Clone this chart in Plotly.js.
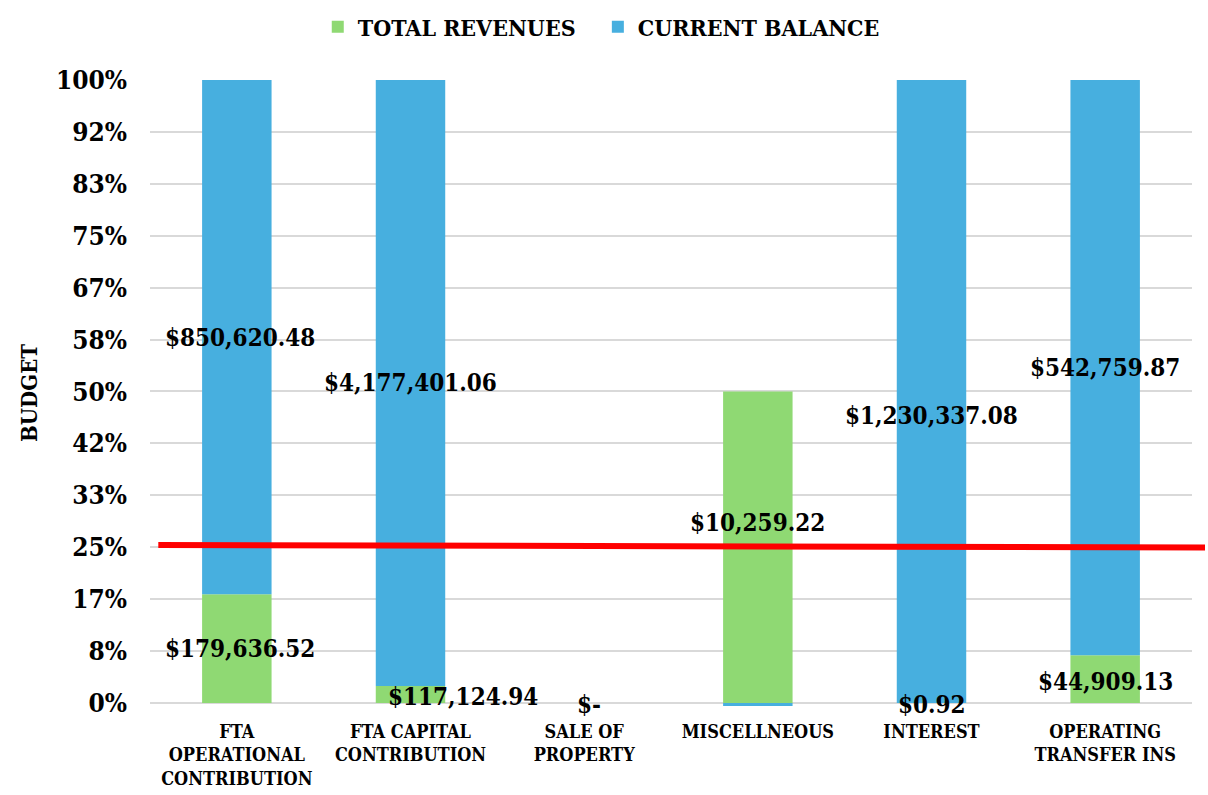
<!DOCTYPE html>
<html>
<head>
<meta charset="utf-8">
<script src="https://cdn.plot.ly/plotly-3.0.1.min.js"></script>
<style>html,body{margin:0;padding:0;background:#fff;}#chart{width:1208px;height:795px;}</style>
</head>
<body>
<div id="chart"></div>
<script>
// ---- data ----
const categories = [
  "FTA<br>OPERATIONAL<br>CONTRIBUTION",
  "FTA CAPITAL<br>CONTRIBUTION",
  "SALE OF<br>PROPERTY",
  "MISCELLNEOUS",
  "INTEREST",
  "OPERATING<br>TRANSFER INS"
];
const totalRevenues = [179636.52, 117124.94, 0, 10259.22, 0.92, 44909.13];
const currentBalance = [850620.48, 4177401.06, 0, -10259.22, 1230337.08, 542759.87];
const yTickVals = [0, 1/12, 2/12, 3/12, 4/12, 5/12, 6/12, 7/12, 8/12, 9/12, 10/12, 11/12, 1];
const yTickText = ["0%", "8%", "17%", "25%", "33%", "42%", "50%", "58%", "67%", "75%", "83%", "92%", "100%"];
const seriesNames = ["TOTAL REVENUES", "CURRENT BALANCE"];

// ---- 100% stacked shares (value / sum of absolute values) ----
const share = (a, b) => a.map((v, i) => {
  const s = Math.abs(a[i]) + Math.abs(b[i]);
  return s === 0 ? 0 : v / s;
});
const revShare = share(totalRevenues, currentBalance);
const balShare = share(currentBalance, totalRevenues);

function money(v) {
  if (v === 0) return "$-";
  const s = Math.abs(v).toLocaleString("en-US", {minimumFractionDigits: 2, maximumFractionDigits: 2});
  return (v < 0 ? "-$" : "$") + s;
}

const FONT = "'DejaVu Serif Condensed', 'DejaVu Serif', serif";
const GREEN = "#8fd973";
const BLUE = "#47afdf";

const traces = [
  {type: "bar", name: seriesNames[0], x: categories, y: revShare, marker: {color: GREEN}, width: 0.4, hoverinfo: "skip", legend: "legend"},
  {type: "bar", name: seriesNames[1], x: categories, y: balShare, marker: {color: BLUE}, width: 0.4, hoverinfo: "skip", legend: "legend2"}
];

// label offsets (manual placements in the original)
const revShift = [[3, 0], [52, -2], [5, -2], [0, 25], [0, -2], [0, -2]];
const balShift = [[3, 0], [0, 0], [0, 0], [0, 0], [0, -24], [0, 0]];

const LABEL_FONT = {family: FONT, size: 24, color: "#000", weight: "bold"};
const annotations = [];
categories.forEach((c, i) => {
  annotations.push({
    x: c, y: revShare[i] / 2, xref: "x", yref: "y", showarrow: false,
    text: money(totalRevenues[i]), xshift: revShift[i][0], yshift: revShift[i][1],
    font: LABEL_FONT
  });
  if (currentBalance[i] > 0) {
    annotations.push({
      x: c, y: revShare[i] + balShare[i] / 2, xref: "x", yref: "y", showarrow: false,
      text: money(currentBalance[i]), xshift: balShift[i][0], yshift: balShift[i][1],
      font: LABEL_FONT
    });
  }
});

const LEGEND_FONT = {family: FONT, size: 23, color: "#000", weight: "bold"};

const layout = {
  width: 1208, height: 795,
  margin: {l: 150, r: 16, t: 80, b: 89, autoexpand: false},
  paper_bgcolor: "#fff", plot_bgcolor: "#fff",
  barmode: "relative",
  font: {family: FONT, color: "#000", weight: "bold"},
  showlegend: true,
  legend: {orientation: "h", x: 0.161, xanchor: "left", y: 1.085, yanchor: "middle", font: LEGEND_FONT},
  legend2: {orientation: "h", x: 0.4298, xanchor: "left", y: 1.085, yanchor: "middle", font: LEGEND_FONT},
  xaxis: {
    type: "category", showgrid: false, zeroline: false, showline: false,
    ticks: "", ticklabelstandoff: 13,
    tickfont: {family: FONT, size: 18, color: "#000", weight: "bold"},
    fixedrange: true
  },
  yaxis: {
    range: [-0.005, 1], tickvals: yTickVals, ticktext: yTickText,
    showgrid: true, gridcolor: "#d9d9d9", gridwidth: 2, zeroline: false, showline: false,
    ticks: "", ticklabelstandoff: 22,
    tickfont: {family: FONT, size: 26, color: "#000", weight: "bold"},
    title: {text: "BUDGET", font: {family: FONT, size: 22, color: "#000", weight: "bold"}, standoff: 12},
    fixedrange: true
  },
  shapes: [{
    type: "line", xref: "paper", yref: "y", x0: 0.008, x1: 1.0125, y0: 0.2535, y1: 0.2495,
    line: {color: "#ff0000", width: 6}
  }],
  annotations: annotations
};

Plotly.newPlot("chart", traces, layout, {displayModeBar: false, staticPlot: true});
</script>
</body>
</html>
